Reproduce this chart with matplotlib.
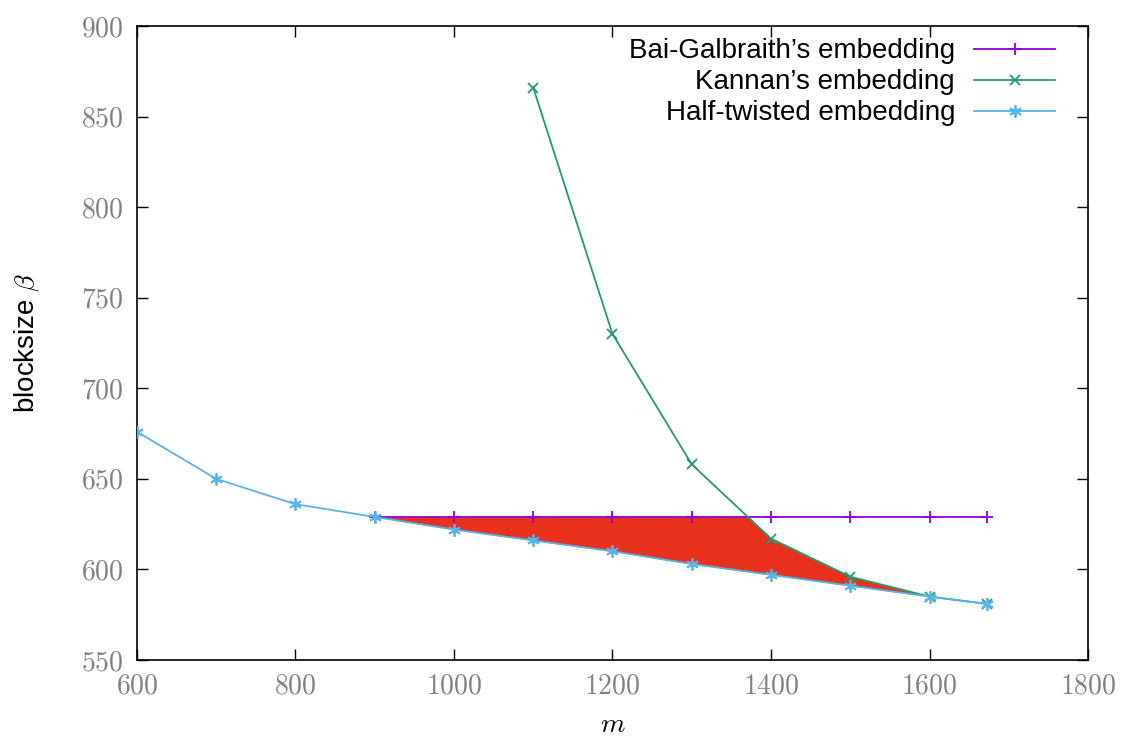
import matplotlib
matplotlib.use("Agg")
import matplotlib.pyplot as plt
from matplotlib.ticker import FuncFormatter
import numpy as np

plt.rcParams['mathtext.fontset'] = 'cm'
plt.rcParams['font.family'] = ['Liberation Sans', 'DejaVu Sans']

# data
m_bg = [900, 1000, 1100, 1200, 1300, 1400, 1500, 1600, 1672]
beta_bg = [629, 629, 629, 629, 629, 629, 629, 629, 629]

m_kannan = [1100, 1200, 1300, 1400, 1500, 1600, 1672]
beta_kannan = [866, 730, 658, 617, 596, 585, 581]

m_half = [600, 700, 800, 900, 1000, 1100, 1200, 1300, 1400, 1500, 1600, 1672]
beta_half = [676, 650, 636, 629, 622, 616, 610, 603, 597, 591, 585, 581]

fig = plt.figure(figsize=(11.22, 7.41), dpi=100)
ax = fig.add_axes([0.1221, 0.1093, 0.8476, 0.8556])

# shaded gap between best of BG/Kannan and half-twisted
xs = np.linspace(m_bg[0], m_bg[-1], 800)
upper = np.interp(xs, m_bg, beta_bg)
kan = np.interp(xs, m_kannan, beta_kannan, left=np.inf)
upper = np.minimum(upper, kan)
lower = np.interp(xs, m_half, beta_half)
ax.fill_between(xs, lower, upper, where=upper > lower, color='#e8321e', lw=0, zorder=1)

ax.plot(m_bg, beta_bg, color='#9400d3', marker='+', ms=9, mew=1.3, lw=1.3,
        label="Bai-Galbraith\u2019s embedding", zorder=3)
ax.plot(m_kannan, beta_kannan, color='#239a6c', marker='x', ms=7, mew=1.3, lw=1.3,
        label="Kannan\u2019s embedding", zorder=3)
ax.plot(m_half, beta_half, color='#56b4e9', marker=(6, 2, 0), ms=9, mew=1.3, lw=1.3,
        label="Half-twisted embedding", zorder=4)

ax.set_xlim(600, 1800)
ax.set_ylim(550, 900)
ax.set_xticks(range(600, 1801, 200))
ax.set_yticks(range(550, 901, 50))
fmt = FuncFormatter(lambda v, p: f"${int(v)}$")
ax.xaxis.set_major_formatter(fmt)
ax.yaxis.set_major_formatter(fmt)
ax.tick_params(direction='in', top=True, right=True, length=8, width=1,
               labelsize=20, labelcolor='#808080', pad=10)
for s in ax.spines.values():
    s.set_linewidth(1.2)

ax.set_xlabel("$m$", fontsize=20, labelpad=9)
ax.set_ylabel(r"blocksize $\beta$", fontsize=20, labelpad=28)

ax.legend(loc='upper right', frameon=False, markerfirst=False, fontsize=20,
          handlelength=2.9, handletextpad=0.7, labelspacing=0.18,
          borderaxespad=0, bbox_to_anchor=(0.977, 0.998))

fig.savefig("out.png", dpi=100)
